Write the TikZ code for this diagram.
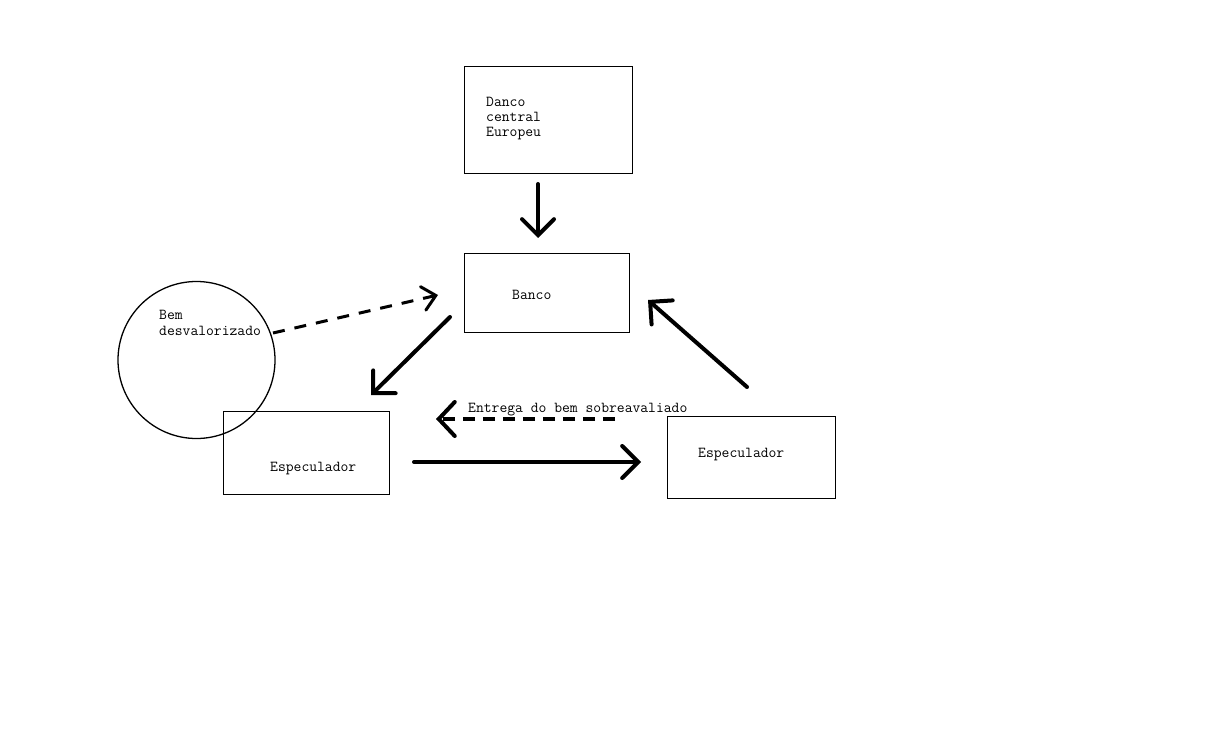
\documentclass[tikz,border=0pt]{standalone}
\usepackage{fontspec}
\usetikzlibrary{arrows.meta}
\tikzset{
  box/.style={draw=black, line width=0.9pt, minimum width=#1, inner sep=0pt},
  lbl/.style={font=\ttfamily\fontsize{15.2}{17}\selectfont, anchor=base west, inner sep=0pt},
  bigarrow/.style={line width=4pt, line cap=round, -{Straight Barb[length=16pt,width=32pt,line cap=round]}},
  dasharrow/.style={line width=4pt, dash pattern=on 12pt off 8pt, -{Straight Barb[length=16pt,width=34pt,line cap=round]}},
}
\begin{document}
\begin{tikzpicture}[x=1pt,y=-1pt]
\useasboundingbox[fill=white] (0,0) rectangle (1218,754);
% boxes
\node[box=168pt, minimum height=107pt] (bce) at (548,119.5) {};
\node[box=165pt, minimum height=79pt] (banco) at (546.5,292.5) {};
\node[box=166pt, minimum height=83pt] (esp1) at (306,452.5) {};
\node[box=168pt, minimum height=82pt] (esp2) at (751,457) {};
\node[draw=black, line width=1.3pt, circle, minimum size=157pt, inner sep=0pt] (bem) at (196.5,360) {};
% texts
\node[lbl] (t1) at (486,107) {Danco};
\node[lbl] (t2) at (486,122) {central};
\node[lbl] (t3) at (486,137) {Europeu};
\node[lbl] (t4) at (512,299) {Banco};
\node[lbl] (t5) at (159,319) {Bem};
\node[lbl] (t6) at (159,335) {desvalorizado};
\node[lbl] (t7) at (270,471) {Especulador};
\node[lbl] (t8) at (698,457) {Especulador};
\node[lbl] (t9) at (468,412) {Entrega do bem sobreavaliado};
% connector end points
\coordinate (a1s) at (538,184);
\coordinate (a1e) at (538,238);
\coordinate (a2s) at (450,317);
\coordinate (a2e) at (371,395);
\coordinate (a3s) at (414,462);
\coordinate (a3e) at (641,462);
\coordinate (a4s) at (615,419);
\coordinate (a4e) at (436,419);
\coordinate (a5s) at (747,387);
\coordinate (a5e) at (648,300);
\coordinate (a6s) at (273,333);
\coordinate (a6e) at (438,295);
% arrows
\draw[bigarrow] (a1s) -- (a1e);
\draw[bigarrow] (a2s) -- (a2e);
\draw[bigarrow] (a3s) -- (a3e);
\draw[bigarrow] (a5s) -- (a5e);
\draw[dasharrow] (a4s) -- (a4e);
\draw[line width=3pt, dash pattern=on 12pt off 10pt, -{Straight Barb[length=13pt,width=24pt,line cap=round]}] (a6s) -- (a6e);
\end{tikzpicture}
\end{document}
